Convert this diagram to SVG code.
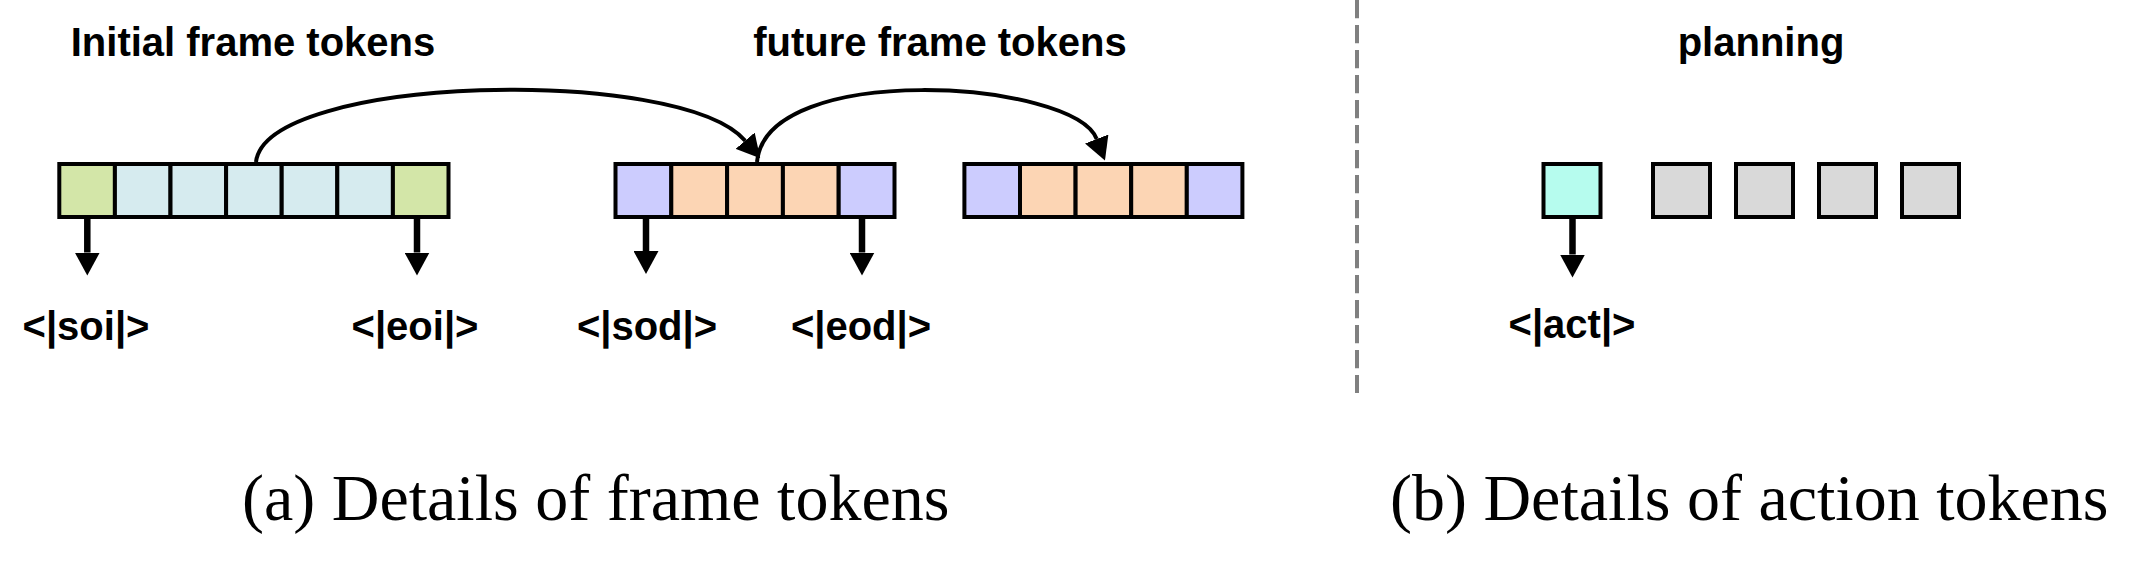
<svg xmlns="http://www.w3.org/2000/svg" width="2131" height="564" viewBox="0 0 2131 564">
<style>
.cell{stroke:#000;stroke-width:4}
.g{fill:#d3e6a8}.b{fill:#d6ebef}.p{fill:#ccccfe}.o{fill:#fcd5b4}.m{fill:#b6fcee}.gr{fill:#d9d9d9}
.lbl{font-family:"Liberation Sans",Arial,sans-serif;font-weight:bold;font-size:40px;fill:#000;text-anchor:middle}
.cap{font-family:"Liberation Serif","Times New Roman",serif;font-size:66px;fill:#000}
.curve{fill:none;stroke:#000;stroke-width:4}
.shaft{fill:none;stroke:#000;stroke-width:6.5}
</style>
<defs>
<marker id="ah" viewBox="0 0 23 25" refX="0" refY="12.5" markerWidth="23" markerHeight="25" markerUnits="userSpaceOnUse" orient="auto">
<path d="M0,0 L23,12.5 L0,25 z" fill="#000"/>
</marker>
</defs>

<g id="title-initial"><text class="lbl" x="253" y="56">Initial frame tokens</text></g>
<g id="title-future"><text class="lbl" x="940" y="56">future frame tokens</text></g>
<g id="title-planning"><text class="lbl" x="1761" y="56">planning</text></g>

<g id="initial-frame">
<rect class="cell g" x="59.3" y="164" width="55.6" height="53"/>
<rect class="cell b" x="114.9" y="164" width="55.6" height="53"/>
<rect class="cell b" x="170.5" y="164" width="55.6" height="53"/>
<rect class="cell b" x="226.1" y="164" width="55.6" height="53"/>
<rect class="cell b" x="281.7" y="164" width="55.6" height="53"/>
<rect class="cell b" x="337.3" y="164" width="55.6" height="53"/>
<rect class="cell g" x="392.9" y="164" width="55.6" height="53"/>
</g>

<g id="future-frame-1">
<rect class="cell p" x="615.5" y="164" width="55.8" height="53"/>
<rect class="cell o" x="671.3" y="164" width="55.8" height="53"/>
<rect class="cell o" x="727.1" y="164" width="55.8" height="53"/>
<rect class="cell o" x="782.9" y="164" width="55.8" height="53"/>
<rect class="cell p" x="838.7" y="164" width="55.8" height="53"/>
</g>

<g id="future-frame-2">
<rect class="cell p" x="964.4" y="164" width="55.6" height="53"/>
<rect class="cell o" x="1020" y="164" width="55.6" height="53"/>
<rect class="cell o" x="1075.6" y="164" width="55.6" height="53"/>
<rect class="cell o" x="1131.2" y="164" width="55.6" height="53"/>
<rect class="cell p" x="1186.8" y="164" width="55.6" height="53"/>
</g>

<g id="act-token"><rect class="cell m" x="1543.5" y="164" width="57" height="53"/></g>
<g id="plan-token-1"><rect class="cell gr" x="1653" y="164" width="57" height="53"/></g>
<g id="plan-token-2"><rect class="cell gr" x="1736" y="164" width="57" height="53"/></g>
<g id="plan-token-3"><rect class="cell gr" x="1819" y="164" width="57" height="53"/></g>
<g id="plan-token-4"><rect class="cell gr" x="1902" y="164" width="57" height="53"/></g>

<g id="label-soi"><text class="lbl" x="86" y="340">&lt;|soi|&gt;</text></g>
<g id="label-eoi"><text class="lbl" x="415" y="340">&lt;|eoi|&gt;</text></g>
<g id="label-sod"><text class="lbl" x="647" y="340">&lt;|sod|&gt;</text></g>
<g id="label-eod"><text class="lbl" x="861" y="340">&lt;|eod|&gt;</text></g>
<g id="label-act"><text class="lbl" x="1572" y="338">&lt;|act|&gt;</text></g>

<g id="connectors">
<path class="curve" d="M256,162 C266,75 680,65 745.2,140.7" marker-end="url(#ah)"/>
<path class="curve" d="M757,162 C766,60 1074,80 1096.7,139" marker-end="url(#ah)"/>
<path class="shaft" d="M87.3,219 L87.3,252.5" marker-end="url(#ah)"/>
<path class="shaft" d="M417,219 L417,252.5" marker-end="url(#ah)"/>
<path class="shaft" d="M646,219 L646,251" marker-end="url(#ah)"/>
<path class="shaft" d="M862,219 L862,252.5" marker-end="url(#ah)"/>
<path class="shaft" d="M1572.5,219 L1572.5,254.5" marker-end="url(#ah)"/>
</g>

<g id="divider"><line x1="1357" y1="0" x2="1357" y2="393" stroke="#808080" stroke-width="4" stroke-dasharray="18.3 6.7"/></g>

<g id="caption-a"><text class="cap" x="242" y="520">(a) Details of frame tokens</text></g>
<g id="caption-b"><text class="cap" x="1390" y="520">(b) Details of action tokens</text></g>
</svg>
